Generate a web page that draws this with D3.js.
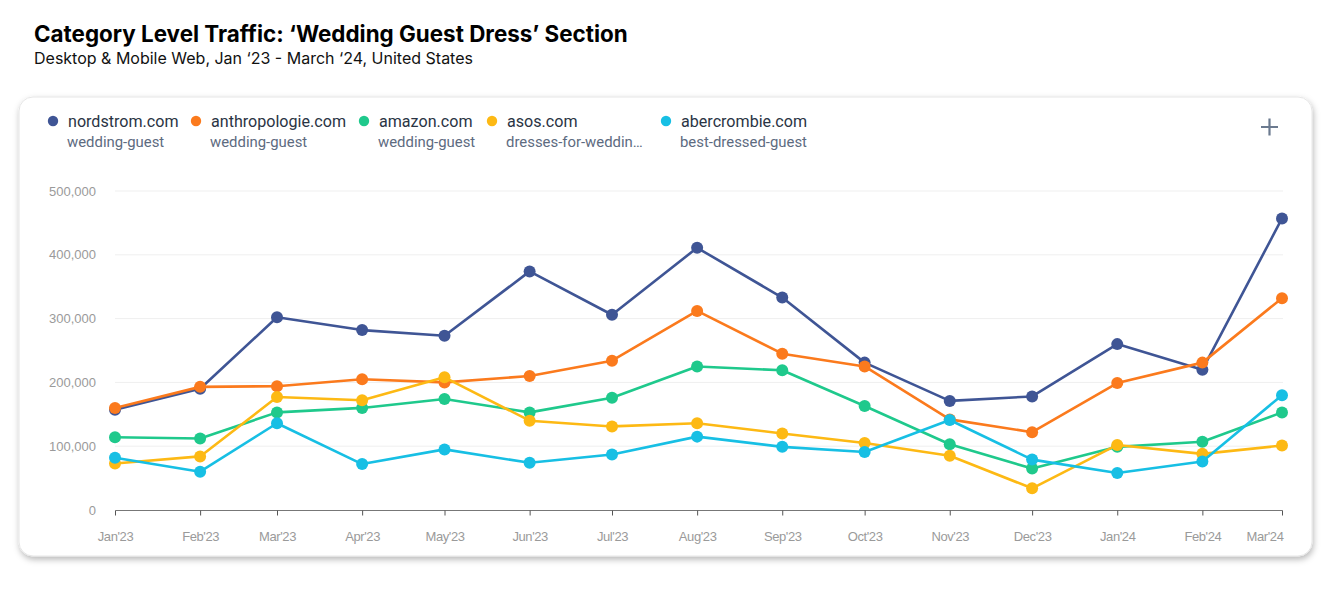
<!DOCTYPE html>
<html><head><meta charset="utf-8">
<script src="https://cdn.jsdelivr.net/npm/d3@7"></script>
<style>
html,body{margin:0;padding:0;background:#fff;}
svg{display:block;}
</style></head>
<body>
<svg id="chart" width="1332" height="592"></svg>
<script>
const months = ["2023-01","2023-02","2023-03","2023-04","2023-05","2023-06","2023-07","2023-08","2023-09","2023-10","2023-11","2023-12","2024-01","2024-02","2024-03"];
const yTicks = [0,100000,200000,300000,400000,500000];
const siteNames = ["nordstrom.com","anthropologie.com","amazon.com","asos.com","abercrombie.com"];
const sitePaths = ["wedding-guest","wedding-guest","wedding-guest","dresses-for-weddin…","best-dressed-guest"];
const nordstrom    = [157000,190000,302000,282000,273000,374000,306000,411000,333000,231000,171000,178000,260000,220000,457000];
const anthropologie= [160000,193000,194000,205000,200000,210000,234000,312000,245000,225000,142000,122000,199000,231000,332000];
const amazon       = [114000,112000,153000,160000,174000,153000,176000,225000,219000,163000,103000,65000,99000,107000,153000];
const asos         = [73000,84000,177000,172000,208000,140000,131000,136000,120000,105000,85000,34000,102000,88000,101000];
const abercrombie  = [82000,60000,136000,72000,95000,74000,87000,115000,99000,91000,141000,79000,58000,76000,180000];
const colors = ["#3f5595","#fb7a1d","#1fc98c","#fdb914","#17bfe4"];

const seriesValues = [nordstrom, anthropologie, amazon, asos, abercrombie];
const dates = months.map(m => new Date(m + "-01T00:00:00Z"));

const svg = d3.select("#chart");
const defs = svg.append("defs");
const f = defs.append("filter").attr("id","shadow").attr("x","-5%").attr("y","-5%").attr("width","110%").attr("height","115%");
f.append("feDropShadow").attr("dx",1).attr("dy",3).attr("stdDeviation",3).attr("flood-color","#000").attr("flood-opacity",0.28);

// Title
svg.append("text").attr("x",34).attr("y",42)
  .attr("font-family","Inter, 'Noto Sans', sans-serif").attr("font-weight",700).attr("font-size",22.4)
  .attr("fill","#000").text("Category Level Traffic: ‘Wedding Guest Dress’ Section");
svg.append("text").attr("x",34).attr("y",64)
  .attr("font-family","Inter, 'Noto Sans', sans-serif").attr("font-size",16)
  .attr("fill","#111").text("Desktop & Mobile Web, Jan ‘23 - March ‘24, United States");

// Card
svg.append("rect").attr("x",19).attr("y",97).attr("width",1293).attr("height",459)
  .attr("rx",14).attr("fill","#fff").attr("stroke","#e6e6e6").attr("filter","url(#shadow)");

// Plus icon
svg.append("path").attr("d","M1261,127H1278M1269.5,118.5V135.5").attr("stroke","#6b7a8f").attr("stroke-width",2.2);

// Legend
const legendX = [53,196,364,492,666];
const lg = svg.append("g");
siteNames.forEach((n,i)=>{
  const g = lg.append("g").attr("transform",`translate(${legendX[i]},0)`);
  g.append("circle").attr("cx",0).attr("cy",121).attr("r",5.2).attr("fill",colors[i]);
  g.append("text").attr("x",15).attr("y",126.5).attr("font-family","Roboto, sans-serif").attr("font-size",16.1)
    .attr("fill","#2a3444").text(n);
  g.append("text").attr("x",14).attr("y",146.5).attr("font-family","Roboto, sans-serif").attr("font-size",14.9)
    .attr("fill","#5d6b7f").text(sitePaths[i]);
});

// Scales
const x = d3.scaleUtc().domain([dates[0], dates[dates.length-1]]).range([115,1282]);
const y = d3.scaleLinear().domain([0,500000]).range([510,191]);

// Grid
svg.append("g").selectAll("line").data(yTicks.slice(1)).join("line")
  .attr("x1",115).attr("x2",1283).attr("y1",d=>y(d)).attr("y2",d=>y(d))
  .attr("stroke","#efefef").attr("stroke-width",1);

// Y axis labels
const yAxis = svg.append("g").attr("transform","translate(96,0)")
  .call(d3.axisLeft(y).tickValues(yTicks).tickSize(0).tickPadding(0).tickFormat(d3.format(",")));
yAxis.select(".domain").remove();
yAxis.selectAll("text").attr("font-family","'Liberation Sans', Arial, sans-serif").attr("font-size",13).attr("fill","#9a9a9a");

// X axis
const xAxis = svg.append("g").attr("transform","translate(0,510.5)")
  .call(d3.axisBottom(x).tickValues(dates).tickSize(5).tickPadding(16).tickFormat(d3.utcFormat("%b'%y")));
xAxis.select(".domain").attr("stroke","#777").attr("d","M115.5,0H1282.5");
xAxis.selectAll(".tick line").attr("stroke","#555");
xAxis.selectAll("text").attr("font-family","'Liberation Sans', Arial, sans-serif").attr("font-size",13).attr("fill","#9a9a9a").attr("letter-spacing","-0.4");
xAxis.selectAll(".tick").filter((d,i)=>i===dates.length-1).select("text").attr("text-anchor","end").attr("dx",1);

// Lines
const line = d3.line().x((d,i)=>x(dates[i])).y(d=>y(d));
seriesValues.forEach((vals,i)=>{
  const g = svg.append("g");
  g.append("path").datum(vals).attr("d",line).attr("fill","none").attr("stroke",colors[i]).attr("stroke-width",2.6).attr("stroke-linejoin","round");
  g.selectAll("circle").data(vals).join("circle")
    .attr("cx",(d,j)=>x(dates[j])).attr("cy",d=>y(d)).attr("r",6).attr("fill",colors[i]);
});
</script>
</body></html>
